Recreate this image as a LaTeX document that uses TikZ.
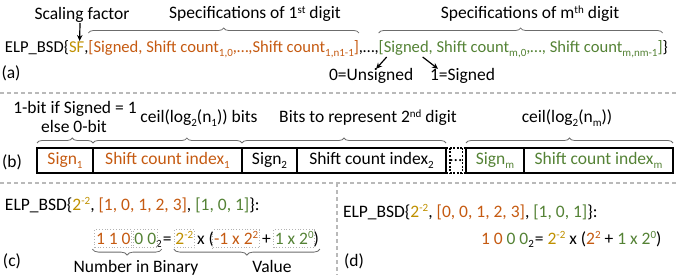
\documentclass[tikz,border=0pt]{standalone}
\usepackage{fontspec}
\setmainfont{Carlito}
\usetikzlibrary{decorations.pathreplacing,calc,fit,arrows.meta}
\definecolor{cor}{HTML}{C55A11}
\definecolor{cgd}{HTML}{BF9000}
\definecolor{cgr}{HTML}{548235}
\newcommand\dn[1]{\raisebox{-3.6pt}{\fontsize{11}{11}\selectfont #1}}
\newcommand\up[1]{\raisebox{5.4pt}{\fontsize{11}{11}\selectfont #1}}
\def\sw{3.96pt}
\begin{document}
\begin{tikzpicture}[x=1pt,y=-1pt,
  txt/.style={font=\fontsize{17.5}{21}\selectfont, inner sep=0pt, outer sep=0pt},
  ln/.style={txt, font=\fontsize{16.6}{20}\selectfont, text height=12pt, text depth=4pt, anchor=base west},
  eq/.style={txt, text height=13pt, text depth=2.5pt, anchor=base west},
  brc/.style={draw=gray!85!black, line width=0.8pt, decorate, decoration={brace, amplitude=5pt}},
  arr/.style={line width=1.2pt, -{Stealth[length=6pt,width=5.5pt]}},
  sepl/.style={draw=gray!55, line width=1.2pt, dash pattern=on 4pt off 3pt},
  cell/.style={txt, draw, line width=1.2pt, minimum height=25pt, outer sep=0pt},
  dotbox/.style={draw=gray!60, dotted, line width=0.8pt, inner sep=1.2pt},
]
\useasboundingbox (0,0) rectangle (676,275);

% ---------- (a)
\node[ln] (e1) at (5,53) {ELP\_BSD\{};
\node[ln, text=cgd] (sf) at (e1.base east) {SF};
\node[ln] (c1) at (sf.base east) {,};
\node[ln, text=cor] (d1) at (c1.base east) {[Signed, Shift count\dn{1,0},…,Shift count\dn{1,n1-1}]};
\node[ln] (c2) at (d1.base east) {,…,};
\node[ln, text=cgr] (dm) at (c2.base east) {[Signed, Shift count\dn{m,0},…, Shift count\dn{m,nm-1}]};
\node[ln] (e2) at (dm.base east) {\}};

\node[txt, anchor=base] (sfl) at (82,20) {Scaling factor};
\node[txt, anchor=base] (s1l) at (255,19) {Specifications of 1\up{st} digit};
\node[txt, anchor=base] (sml) at (530,19) {Specifications of m\up{th} digit};
\draw[brc] ([yshift=8pt]d1.north west) -- ([yshift=8pt]d1.north east);
\draw[brc] ([yshift=8pt]dm.north west) -- ([yshift=8pt]dm.north east);
\draw[arr] ([xshift=-2pt]sfl.south) -- ([xshift=3pt]sf.north);

\node[txt] (la) at (11,73) {(a)};
\node[txt, anchor=base west] (uns) at (329,81) {0=Unsigned};
\node[txt, anchor=base west] (sgn) at (430,81) {1=Signed};
\coordinate (s1) at ($(dm.base west)+(8,4)$);
\coordinate (s2) at ($(dm.base west)+(44,4)$);
\draw[arr] (s1) -- ([xshift=5pt]uns.north);
\draw[arr] (s2) -- ([xshift=8pt]sgn.north west);

% ---------- separators
\draw[sepl] (0,93) -- (676,93);
\draw[sepl] (0,183) -- (676,183);
\draw[sepl] (337,183) -- (337,275);

% ---------- (b)
\node[txt, anchor=base] (l1) at (75,114) {1-bit if Signed = 1};
\node[txt, anchor=base] (l2) at (74,132) {else 0-bit};
\node[txt, anchor=base] (l3) at (199,123) {ceil(log\dn{2}(n\dn{1})) bits};
\node[txt, anchor=base] (l4) at (368,123) {Bits to represent 2\up{nd} digit};
\node[txt, anchor=base] (l5) at (567,123) {ceil(log\dn{2}(n\dn{m}))};

\node[cell, text=cor, minimum width=56pt] (b1) at (65,160.5) {Sign\dn{1}};
\node[cell, text=cor, minimum width=149pt] (b2) at (167.5,160.5) {Shift count index\dn{1}};
\node[cell, minimum width=55pt] (b3) at (269.5,160.5) {Sign\dn{2}};
\node[cell, minimum width=149pt] (b4) at (371.5,160.5) {Shift count index\dn{2}};
\node[cell, text=cgr, minimum width=58pt] (b5) at (495,160.5) {Sign\dn{m}};
\node[cell, text=cgr, minimum width=149pt] (b6) at (598.5,160.5) {Shift count index\dn{m}};
\node[txt, minimum width=12pt, minimum height=25pt] (bd) at (456,160.5) {…};
\draw[line width=1.1pt, dash pattern=on 2pt off 1.5pt]
  (b4.north east) -- (b5.north west)
  (b4.south east) -- (b5.south west)
  (bd.north west) -- (bd.south west)
  (bd.north east) -- (bd.south east);

\draw[brc, decoration={brace, amplitude=5pt, aspect=0.63}] ([yshift=5pt]b1.north west) -- ([yshift=5pt]b1.north east);
\draw[brc, decoration={brace, amplitude=5pt, aspect=0.63}] ([yshift=5pt]b2.north west) -- ([yshift=5pt]b2.north east);
\draw[brc] ([yshift=5pt]b3.north west) -- ([yshift=5pt]b4.north east);
\draw[brc] ([yshift=5pt]b5.north west) -- ([yshift=5pt]b6.north east);

\node[txt] (lb) at (12,162) {(b)};

% ---------- (c)
\node[txt, anchor=base west] (cl1) at (5,210) {ELP\_BSD\{\textcolor{cgd}{2\up{-2}}, \textcolor{cor}{[1, 0, 1, 2, 3]}, \textcolor{cgr}{[1, 0, 1]}\}:};
\node[eq, text=cor] (ca) at (96,244) {1 1 0};
\node[eq, text=cgr] (cb) at ([xshift=\sw]ca.base east) {0 0};
\node[eq] (cs) at (cb.base east) {\dn{2}};
\node[eq] (ceq) at ([xshift=1pt]cs.base east) {=};
\node[eq, text=cgd] (cc) at ([xshift=\sw]ceq.base east) {2\up{-2}};
\node[eq] (cx) at ([xshift=\sw]cc.base east) {x (};
\node[eq, text=cor] (cd) at (cx.base east) {-1 x 2\up{2}};
\node[eq] (cp) at ([xshift=\sw]cd.base east) {+};
\node[eq, text=cgr] (ce) at ([xshift=\sw]cp.base east) {1 x 2\up{0}};
\node[eq] (cr) at (ce.base east) {)};
\node[dotbox, fit=(ca)] (fa) {};
\node[dotbox, fit=(cb)] (fb) {};
\node[dotbox, fit=(cc)] (fc) {};
\node[dotbox, fit=(cd)] (fd) {};
\node[dotbox, fit=(ce)] (fe) {};
\draw[brc, decoration={brace, amplitude=6pt, mirror}] ($(fa.south west)+(-2,1)$) -- ($(fa.south west -| cs.east)+(0,1)$);
\draw[brc, decoration={brace, amplitude=6pt, mirror}] ($(fc.south west)+(0,1)$) -- ($(fc.south west -| cr.east)+(1,1)$);
\node[txt, anchor=base] (nib) at (136,272) {Number in Binary};
\node[txt, anchor=base] (val) at (272,272) {Value};
\node[txt] (lc) at (12,261) {(c)};

% ---------- (d)
\node[txt, anchor=base west] (dl1) at (343,217) {ELP\_BSD\{\textcolor{cgd}{2\up{-2}}, \textcolor{cor}{[0, 0, 1, 2, 3]}, \textcolor{cgr}{[1, 0, 1]}\}:};
\node[txt, anchor=base west] (dl2) at (481,244) {\textcolor{cor}{1 0} \textcolor{cgr}{0 0}\dn{2}\kern1pt= \textcolor{cgd}{2\up{-2}} x (\textcolor{cor}{2\up{2}} + \textcolor{cgr}{1 x 2\up{0}})};
\node[txt] (ld) at (354,261) {(d)};
\end{tikzpicture}
\end{document}
